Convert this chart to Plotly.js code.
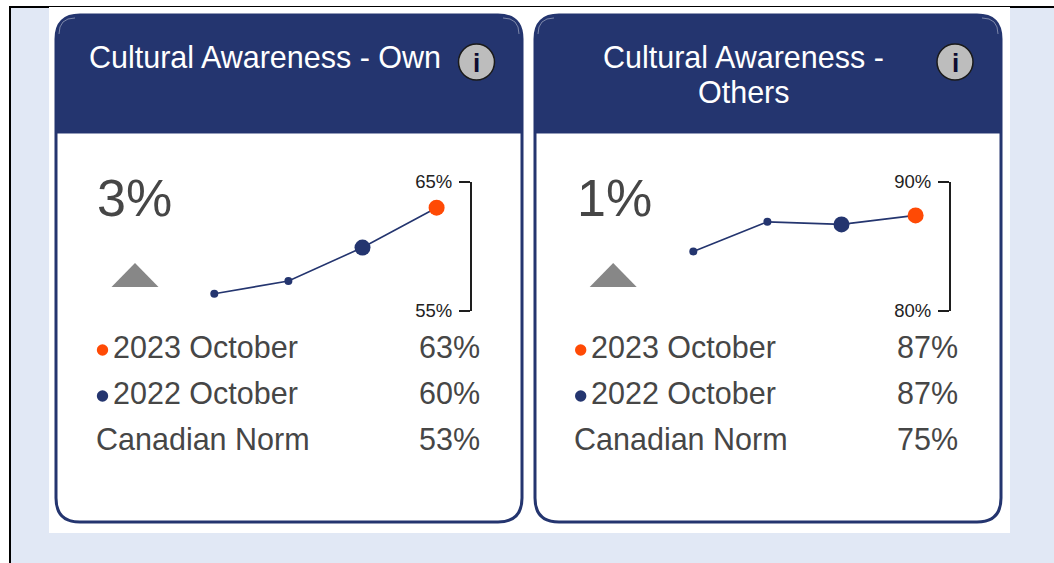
<!DOCTYPE html>
<html>
<head>
<meta charset="utf-8">
<script src="https://cdn.plot.ly/plotly-3.0.1.min.js"></script>
<style>html,body{margin:0;padding:0;background:#fff;overflow:hidden}#c{width:1054px;height:563px}</style>
</head>
<body>
<div id="c"></div>
<script>
// Data
const periods = [0, 1, 2, 3];
const ownValues = [56.3, 57.3, 59.9, 63.0];
const othersValues = [84.6, 86.9, 86.7, 87.4];
const ownRange = [55, 65];
const othersRange = [80, 90];
const ownChange = '3%';
const othersChange = '1%';
const rowLabels = ['2023 October', '2022 October', 'Canadian Norm'];
const ownRows = ['63%', '60%', '53%'];
const othersRows = ['87%', '87%', '75%'];

const W = 1054, H = 563;
const NAVY = '#24356f', ORANGE = '#ff4a05', TEXT = '#464646', FONT = 'Liberation Sans, Arial, sans-serif';
const px = x => x / W, py = y => 1 - y / H;
const P = (x, y) => px(x).toFixed(5) + ',' + py(y).toFixed(5);

const shapes = [], annotations = [];
const rect = (x0, y0, x1, y1, fill) => shapes.push({type:'rect', xref:'paper', yref:'paper', layer:'below',
  x0:px(x0), x1:px(x1), y0:py(y1), y1:py(y0), fillcolor:fill, line:{width:0}});
const circle = (cx, cy, r, fill, line) => shapes.push({type:'circle', xref:'paper', yref:'paper', layer:'below',
  x0:px(cx-r), x1:px(cx+r), y0:py(cy+r), y1:py(cy-r), fillcolor:fill, line: line || {width:0}});
const path = (d, fill, line) => shapes.push({type:'path', xref:'paper', yref:'paper', layer:'below', path:d, fillcolor:fill, line:line || {width:0}});
const text = (t, x, y, size, color, anchor, extra) => annotations.push(Object.assign({text:t, xref:'paper', yref:'paper',
  x:px(x), y:py(y), xanchor:anchor || 'left', yanchor:'middle', showarrow:false, align:anchor === 'center' ? 'center' : 'left',
  borderpad:0, font:{family:FONT, size:size, color:color}}, extra || {}));

// page background
rect(9, 6, W, H, '#000000');
rect(11, 8, W, H, '#e1e8f5');
rect(49, 7, 1010, 533, '#ffffff');

function card(x0, x1, titleLines, infoX, change, rows, titleX, bigX, off) {
  const y0 = 15, y1 = 522, r = 24, hy = 133;
  path('M' + P(x0, y0 + r) + ' Q' + P(x0, y0) + ' ' + P(x0 + r, y0) + ' L' + P(x1 - r, y0) + ' Q' + P(x1, y0) + ' ' + P(x1, y0 + r) +
       ' L' + P(x1, y1 - r) + ' Q' + P(x1, y1) + ' ' + P(x1 - r, y1) + ' L' + P(x0 + r, y1) + ' Q' + P(x0, y1) + ' ' + P(x0, y1 - r) + ' Z',
       '#ffffff', {color: NAVY, width: 3});
  path('M' + P(x0, y0 + r) + ' Q' + P(x0, y0) + ' ' + P(x0 + r, y0) + ' L' + P(x1 - r, y0) + ' Q' + P(x1, y0) + ' ' + P(x1, y0 + r) +
       ' L' + P(x1, hy) + ' L' + P(x0, hy) + ' Z', NAVY, {color: NAVY, width: 1});
  // faint inner highlight at the header's top corners
  const hl = {color: 'rgba(255,255,255,0.4)', width: 1};
  path('M' + P(x0 + 3, y0 + 19) + ' Q' + P(x0 + 3, y0 + 3) + ' ' + P(x0 + 19, y0 + 3), 'rgba(0,0,0,0)', hl);
  path('M' + P(x1 - 19, y0 + 3) + ' Q' + P(x1 - 3, y0 + 3) + ' ' + P(x1 - 3, y0 + 19), 'rgba(0,0,0,0)', hl);
  titleLines.forEach((t, i) => text(t, titleX, 57.3 + i * 34.5, 30.5, '#ffffff', 'center'));
  circle(infoX, 62, 18, '#bdbdbd', {color: '#1a1a1a', width: 1.5});
  text('<b>i</b>', infoX, 63, 26, '#0c0c30', 'center');
  const L = x0 + 41 + off;
  text(change, bigX, 198, 52, TEXT);
  path('M' + P(L + 14.5, 287) + ' L' + P(L + 38, 263) + ' L' + P(L + 61.5, 287) + ' Z', '#878787');
  const ys = [347, 393, 439];
  rows.forEach((v, i) => {
    text(rowLabels[i], i === 2 ? L - 1.8 : L + 14.5, ys[i] - 0.4, 30.5, TEXT);
    text(v, x0 + off + 424.5, ys[i] - 0.4, 30.5, TEXT, 'right');
  });
  circle(L + 5.5, 350, 5.7, ORANGE);
  circle(L + 5.5, 396, 5.7, NAVY);
}
card(56, 522, ['Cultural Awareness - Own'], 476.5, ownChange, ownRows, 265, 95.5, 0);
card(535, 1001, ['Cultural Awareness -', 'Others'], 955, othersChange, othersRows, 743.5, 576, -0.8);

function trace(x, y, xa, ya) {
  return {x:x, y:y, xaxis:xa, yaxis:ya, type:'scatter', mode:'lines+markers', hoverinfo:'skip', cliponaxis:false,
    line:{color:NAVY, width:1.6},
    marker:{color:[NAVY, NAVY, NAVY, ORANGE], size:[8, 8, 16, 16], opacity:1, line:{width:0}}};
}
const step = 74.1, span = 256.7 / step;
const yAxis = (range, pos) => ({domain:[py(310.5), py(182)], range:range, tickvals:range, ticktext:range.map(v => v + '%'),
  anchor:'free', position:pos, side:'left', showline:true, linecolor:'#1e1e1e', linewidth:2,
  ticks:'outside', ticklen:11, tickwidth:2, tickcolor:'#1e1e1e', showgrid:false, zeroline:false,
  tickfont:{family:FONT, size:18.5, color:'#222222'}, ticklabelstandoff:3, fixedrange:true});
const xAxis = (a, b, ya) => ({domain:[px(a), px(b)], range:[0, span], visible:false, anchor:ya, fixedrange:true});

const layout = {
  width:W, height:H, margin:{l:0, r:0, t:0, b:0}, paper_bgcolor:'#ffffff', plot_bgcolor:'rgba(0,0,0,0)', showlegend:false,
  xaxis: xAxis(214.3, 471, 'y'), yaxis: yAxis(ownRange, px(471)),
  xaxis2: xAxis(693.3, 950, 'y2'), yaxis2: yAxis(othersRange, px(950)),
  shapes: shapes, annotations: annotations
};
Plotly.newPlot('c', [trace(periods, ownValues, 'x', 'y'), trace(periods, othersValues, 'x2', 'y2')], layout, {displayModeBar:false, staticPlot:true});
</script>
</body>
</html>
